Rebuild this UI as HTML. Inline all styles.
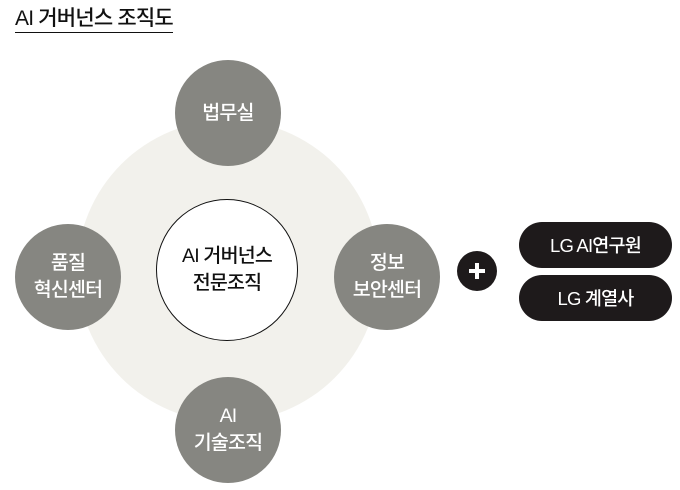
<!DOCTYPE html>
<html><head><meta charset="utf-8"><style>
body{margin:0;width:680px;height:490px;background:#fff;position:relative;overflow:hidden;font-family:"Liberation Sans","Noto Sans CJK KR",sans-serif}
.t{position:absolute;left:15px;top:6px;font-size:21px;font-weight:500;color:#111;border-bottom:1.5px solid #111;line-height:25px;padding-bottom:1px;letter-spacing:-0.8px}
.c{position:absolute;border-radius:50%;display:flex;align-items:center;justify-content:center;text-align:center;line-height:27px;font-size:19.5px;font-weight:500;letter-spacing:-0.8px}
.g{width:106px;height:106px;background:#868681;color:#fff}
.p{position:absolute;left:519px;width:153px;height:46px;border-radius:23px;background:#1e1a1b;color:#fff;font-size:18.5px;font-weight:500;display:flex;align-items:center;justify-content:center;letter-spacing:-0.8px}
</style></head><body>
<div class="t">AI 거버넌스 조직도</div>
<div class="c" style="left:77px;top:120px;width:302px;height:302px;background:#f2f1ec"></div>
<div class="c" style="left:156px;top:199px;width:142px;height:142px;background:#fff;border:1.5px solid #111;box-sizing:border-box;color:#111">AI 거버넌스<br>전문조직</div>
<div class="c g" style="left:175px;top:60px">법무실</div>
<div class="c g" style="left:15px;top:224px">품질<br>혁신센터</div>
<div class="c g" style="left:334px;top:224px">정보<br>보안센터</div>
<div class="c g" style="left:175px;top:377px">AI<br>기술조직</div>
<div class="c" style="left:457px;top:251px;width:40px;height:40px;background:#1e1a1b">
<svg width="20" height="20" viewBox="0 0 20 20"><path d="M10 2V18M2 10H18" stroke="#fff" stroke-width="4"/></svg></div>
<div class="p" style="top:222px">LG AI연구원</div>
<div class="p" style="top:275px">LG 계열사</div>
</body></html>
